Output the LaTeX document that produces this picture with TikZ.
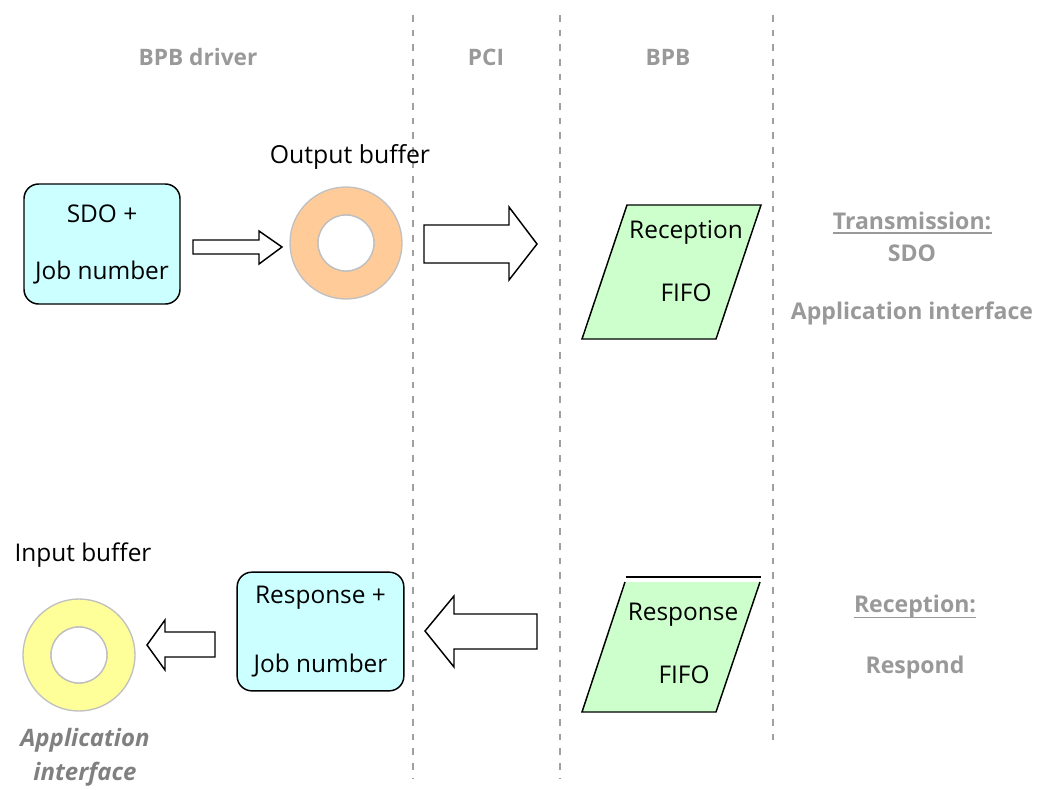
\documentclass[tikz,border=0pt]{standalone}
\usepackage{fontspec}
\setmainfont{Open Sans}
\definecolor{boxcyan}{HTML}{CCFFFF}
\definecolor{fifogreen}{HTML}{CCFFCC}
\definecolor{ringorange}{HTML}{FFCC99}
\definecolor{ringyellow}{HTML}{FFFF99}
\definecolor{ringedge}{HTML}{C0C0C0}
\definecolor{lanegray}{HTML}{A0A0A0}
\definecolor{labelgray}{HTML}{999999}
\definecolor{italgray}{HTML}{808080}
\tikzset{
  lane/.style={draw=lanegray, line width=1.1pt, dash pattern=on 5pt off 6pt},
  lanelabel/.style={text=labelgray, font=\fontsize{17}{20}\selectfont\bfseries, inner sep=0pt},
  sidelabel/.style={text=labelgray, font=\fontsize{17.3}{20}\selectfont\bfseries, inner sep=0pt},
  blacklabel/.style={text=black, font=\fontsize{18.3}{20}\selectfont, inner sep=0pt},
  jobbox/.style={draw=black, line width=1.1pt, fill=boxcyan, rounded corners=11pt,
    align=center, inner sep=0pt},
  fifo/.style={draw=black, line width=1.1pt, fill=fifogreen},
  ring/.style={draw=ringedge, line width=1pt},
  blockarrow/.style={draw=black, line width=1.1pt, fill=white, line join=miter},
}
\begin{document}
\begin{tikzpicture}[x=0.75pt, y=-0.75pt]
\useasboundingbox (0,0) rectangle (1044,789);

% lane separators
\coordinate (l1t) at (413,15); \coordinate (l1b) at (413,778);
\coordinate (l2t) at (560,15); \coordinate (l2b) at (560,778);
\coordinate (l3t) at (773,15); \coordinate (l3b) at (773,748);
\draw[lane] (l1t) -- (l1b);
\draw[lane] (l2t) -- (l2b);
\draw[lane] (l3t) -- (l3b);

% lane titles
\node[lanelabel] (tdriver) at (198,57) {BPB driver};
\node[lanelabel] (tpci) at (486,57) {PCI};
\node[lanelabel] (tbpb) at (668,57) {BPB};

% ---- transmission path ----
\node[jobbox, minimum width=117pt, minimum height=90pt,
      font=\fontsize{18.3}{42.75}\selectfont] (sdo) at (102,244) {SDO +\\Job number};

\coordinate (a1s1) at (193,240); \coordinate (a1s2) at (259,240);
\coordinate (a1h1) at (259,231); \coordinate (a1tip) at (282,247);
\coordinate (a1h2) at (259,264); \coordinate (a1s3) at (259,254);
\coordinate (a1s4) at (193,254);
\draw[blockarrow] (a1s1) -- (a1s2) -- (a1h1) -- (a1tip) -- (a1h2) -- (a1s3) -- (a1s4) -- cycle;

\coordinate (outc) at (346,243);
\draw[ring, fill=ringorange, even odd rule] (outc) circle[radius=56] (outc) circle[radius=28];
\fill[white] (outc) circle[radius=27.5];
\draw[ring] (outc) circle[radius=28];
\node[blacklabel, font=\fontsize{18.6}{20}\selectfont] (outlbl) at (350,157) {Output buffer};

\coordinate (a2s1) at (424,225); \coordinate (a2s2) at (509,225);
\coordinate (a2h1) at (509,207); \coordinate (a2tip) at (537,244);
\coordinate (a2h2) at (509,280); \coordinate (a2s3) at (509,263);
\coordinate (a2s4) at (424,263);
\draw[blockarrow] (a2s1) -- (a2s2) -- (a2h1) -- (a2tip) -- (a2h2) -- (a2s3) -- (a2s4) -- cycle;

\coordinate (rf1) at (627,205); \coordinate (rf2) at (761,205);
\coordinate (rf3) at (716,339); \coordinate (rf4) at (582,339);
\draw[fifo] (rf1) -- (rf2) -- (rf3) -- (rf4) -- cycle;
\node[blacklabel] (rfa) at (686,232) {Reception};
\node[blacklabel] (rfb) at (686,293) {FIFO};

\node[sidelabel, anchor=base] (trans) at (912,229) {Transmission:};
\draw[labelgray, line width=1.1pt] ([yshift=-3pt]trans.base west) -- ([yshift=-3pt]trans.base east);
\node[sidelabel] (tsdo) at (912,253) {SDO};
\node[sidelabel] (tapp) at (912,313) {Application interface};

% ---- reception path ----
\coordinate (sf1) at (625,582); \coordinate (sf2) at (760,582);
\coordinate (sf3) at (716,712); \coordinate (sf4) at (582,712);
\fill[fifogreen] (sf1) -- (sf2) -- (sf3) -- (sf4) -- cycle;
\draw[black, line width=1.1pt] (sf1) -- (sf4) -- (sf3) -- (sf2);
\coordinate (sft1) at (626,577); \coordinate (sft2) at (761,577);
\draw[black, line width=1.1pt] (sft1) -- (sft2);
\node[blacklabel] (sfa) at (683,615) {Response};
\node[blacklabel] (sfb) at (684,675) {FIFO};

\coordinate (a3s1) at (537,614); \coordinate (a3s2) at (454,614);
\coordinate (a3h1) at (454,596); \coordinate (a3tip) at (425,631);
\coordinate (a3h2) at (454,667); \coordinate (a3s3) at (454,649);
\coordinate (a3s4) at (537,649);
\draw[blockarrow] (a3s1) -- (a3s2) -- (a3h1) -- (a3tip) -- (a3h2) -- (a3s3) -- (a3s4) -- cycle;

\node[jobbox, minimum width=125pt, minimum height=89pt,
      font=\fontsize{18.3}{51.75}\selectfont] (resp) at (320.5,631.5) {Response +\\Job number};

\coordinate (a4s1) at (215,632); \coordinate (a4s2) at (165,632);
\coordinate (a4h1) at (165,620); \coordinate (a4tip) at (147,645);
\coordinate (a4h2) at (165,670); \coordinate (a4s3) at (165,657);
\coordinate (a4s4) at (215,657);
\draw[blockarrow] (a4s1) -- (a4s2) -- (a4h1) -- (a4tip) -- (a4h2) -- (a4s3) -- (a4s4) -- cycle;

\coordinate (inc) at (79,655);
\draw[ring, fill=ringyellow, even odd rule] (inc) circle[radius=56] (inc) circle[radius=28];
\fill[white] (inc) circle[radius=27.5];
\draw[ring] (inc) circle[radius=28];
\node[blacklabel] (inlbl) at (83,555) {Input buffer};

\node[text=italgray, font=\fontsize{18}{25.5}\selectfont\bfseries\itshape,
      align=center, inner sep=0pt] (appif) at (85,757) {Application\\interface};

\node[sidelabel, anchor=base] (recp) at (915,612) {Reception:};
\draw[labelgray, line width=1.1pt] ([yshift=-4pt]recp.base west) -- ([yshift=-4pt]recp.base east);
\node[sidelabel] (tresp) at (915,667) {Respond};
\end{tikzpicture}
\end{document}
